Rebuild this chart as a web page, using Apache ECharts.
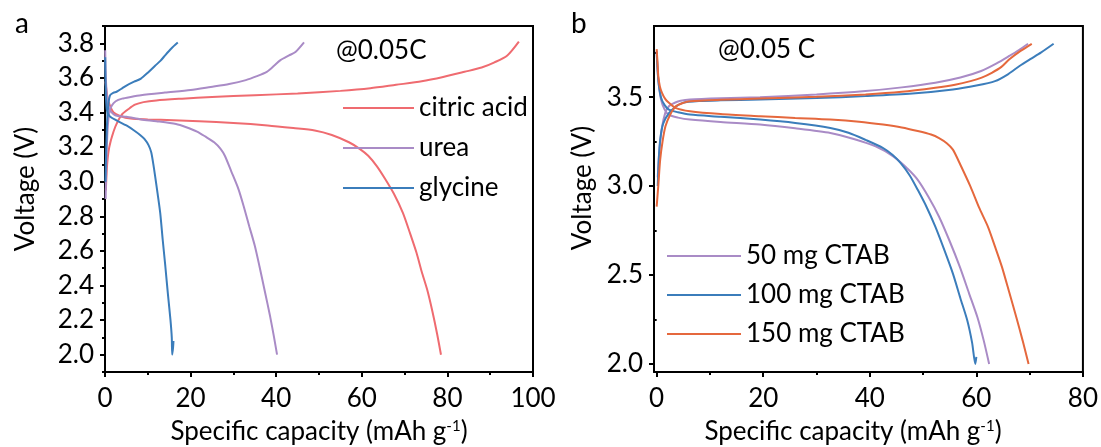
<!DOCTYPE html>
<html>
<head>
<meta charset="utf-8">
<title>Charge-discharge curves</title>
<script src="https://cdn.jsdelivr.net/npm/echarts@6/dist/echarts.min.js"></script>
<style>
  html, body { margin: 0; padding: 0; background: #fff; }
  #main { width: 1101px; height: 447px; }
</style>
</head>
<body>
<div id="main"></div>
<script>
// ---- panel a : different fuels (capacity mAh/g, voltage V) ----
var citricCharge = [[0.2,2.95],[0.5,3.1],[1,3.2],[2,3.29],[3,3.35],[4,3.39],[5.5,3.42],[7,3.445],[9,3.46],[12,3.47],[18,3.48],[25,3.49],[35,3.5],[45,3.51],[55,3.525],[62,3.54],[68,3.56],[74,3.58],[79,3.605],[84,3.635],[88,3.66],[91,3.69],[94,3.73],[96.7,3.81]];
var citricDischarge = [[0.1,3.58],[0.5,3.5],[1,3.45],[2,3.4],[3.5,3.38],[6,3.365],[10,3.36],[16,3.355],[22,3.35],[30,3.34],[38,3.325],[44,3.31],[49,3.296],[53,3.27],[57,3.228],[59.5,3.19],[61.5,3.15],[63.5,3.09],[65.5,3.014],[67.5,2.93],[69.6,2.82],[71.3,2.7],[72.8,2.588],[74,2.48],[75.3,2.374],[76.5,2.25],[77.6,2.12],[78.5,2.0]];
var ureaCharge = [[0.15,2.9],[0.3,3.1],[0.6,3.3],[1,3.4],[1.6,3.44],[2.5,3.465],[4,3.48],[6,3.49],[8.4,3.5],[14,3.515],[20,3.53],[24.7,3.548],[29,3.565],[32.9,3.587],[35.5,3.61],[37.8,3.635],[39.5,3.67],[41,3.703],[43,3.73],[44.5,3.75],[46.5,3.806]];
var ureaDischarge = [[0.05,3.76],[0.2,3.6],[0.5,3.48],[1,3.42],[2,3.39],[3,3.38],[5,3.375],[8.4,3.36],[12,3.35],[16.6,3.334],[19,3.315],[21.5,3.29],[23.5,3.26],[25.5,3.228],[27,3.19],[28,3.15],[29.5,3.06],[31.2,2.956],[32.5,2.85],[33.7,2.743],[35,2.63],[36.1,2.51],[37.4,2.36],[38.6,2.219],[39.5,2.1],[40.2,2.0]];
var glycineCharge = [[0.1,3.0],[0.3,3.2],[0.5,3.35],[0.8,3.45],[1.2,3.5],[2,3.515],[2.7,3.52],[4,3.54],[5.1,3.557],[6.8,3.578],[8.4,3.596],[10,3.63],[11.7,3.67],[13,3.7],[14.1,3.732],[15.5,3.77],[17,3.804]];
var glycineDischarge = [[0.05,3.72],[0.15,3.55],[0.4,3.42],[1,3.38],[2.7,3.354],[5,3.325],[6.8,3.296],[8.2,3.27],[9.2,3.247],[10.2,3.21],[10.8,3.17],[11.3,3.1],[11.7,3.034],[12.3,2.93],[12.9,2.82],[13.5,2.66],[14.1,2.51],[14.7,2.35],[15.3,2.2],[15.6,2.1],[15.7,2.0],[15.9,2.04],[16.0,2.08]];

// ---- panel b : CTAB amount ----
var ctab50Charge = [[0.2,3.05],[0.5,3.2],[1,3.33],[1.6,3.41],[2.3,3.449],[3.5,3.47],[4.5,3.48],[6.25,3.487],[12,3.494],[19.4,3.5],[30,3.515],[39.2,3.534],[46,3.555],[52.3,3.581],[57,3.61],[60.9,3.647],[63.8,3.69],[66.2,3.732],[68,3.765],[69.7,3.8]];
var ctab50Discharge = [[0,3.76],[0.3,3.6],[0.8,3.49],[1.5,3.43],[2.3,3.4],[4,3.385],[6.25,3.374],[12,3.36],[19.4,3.346],[26,3.325],[32.6,3.299],[37,3.265],[41.1,3.223],[44.4,3.167],[47,3.1],[49,3.035],[51,2.94],[53,2.828],[55,2.69],[56.9,2.546],[58.6,2.4],[60.2,2.263],[61.4,2.13],[62.4,2.0]];
var ctab100Charge = [[0.2,3.0],[0.4,3.15],[0.66,3.26],[1.2,3.35],[2.3,3.41],[3.5,3.445],[4.9,3.468],[8,3.478],[12,3.482],[19.4,3.487],[30,3.495],[39.2,3.506],[48,3.52],[55.6,3.543],[60,3.565],[63.5,3.59],[66,3.63],[68.1,3.675],[70.2,3.715],[72.1,3.75],[74.5,3.8]];
var ctab100Discharge = [[0,3.75],[0.3,3.6],[0.8,3.5],[1.5,3.455],[2.3,3.43],[4,3.415],[6.25,3.402],[12,3.39],[19.4,3.374],[26,3.355],[32.6,3.327],[36,3.3],[39.2,3.26],[42.5,3.214],[44.3,3.175],[45.8,3.129],[47.5,3.06],[49,2.979],[50.7,2.88],[52.3,2.772],[54,2.64],[55.6,2.508],[57,2.37],[58.3,2.245],[59.2,2.12],[59.8,2.0],[60,2.04]];
var ctab150Charge = [[0,2.885],[0.3,3.0],[0.66,3.148],[1.1,3.25],[1.65,3.336],[2.5,3.4],[3.6,3.449],[5,3.468],[6.25,3.477],[12,3.485],[19.4,3.492],[30,3.502],[39.2,3.515],[46,3.53],[52.3,3.553],[56,3.57],[58.9,3.59],[61,3.61],[62.9,3.637],[64.7,3.67],[66.2,3.713],[68.3,3.76],[70.4,3.8]];
var ctab150Discharge = [[0,3.77],[0.15,3.7],[0.3,3.62],[0.6,3.56],[1,3.524],[1.6,3.49],[2.3,3.468],[3.5,3.44],[6.25,3.421],[12,3.405],[19.4,3.393],[26,3.383],[32.6,3.374],[38,3.362],[42.5,3.346],[46,3.33],[49,3.31],[51.5,3.29],[53,3.27],[54.5,3.24],[55.6,3.205],[57,3.12],[58.9,2.997],[60.5,2.88],[62.2,2.77],[63.5,2.66],[64.8,2.546],[66.2,2.4],[67.5,2.263],[68.7,2.13],[69.8,2.0]];

// tick values
var aXLabels = [0, 20, 40, 60, 80, 100];
var aXMinor = [10, 30, 50, 70, 90];
var aYLabels = [2.0, 2.2, 2.4, 2.6, 2.8, 3.0, 3.2, 3.4, 3.6, 3.8];
var aYMinor = [1.9, 2.1, 2.3, 2.5, 2.7, 2.9, 3.1, 3.3, 3.5, 3.7, 3.9];
var bXLabels = [0, 20, 40, 60, 80];
var bXMinor = [10, 30, 50, 70];
var bYLabels = [2.0, 2.5, 3.0, 3.5];
var bYMinor = [2.25, 2.75, 3.25, 3.75];

var FONT = 'Lato';
var RED = '#ef6b70', PURPLE = '#a98bc6', BLUE = '#3b7dbb', ORANGE = '#e5683d';

// plot boxes (pixels)
var boxA = { left: 105, top: 26, width: 428, height: 346 };
var boxB = { left: 654, top: 26, width: 429, height: 346 };

var myChart = echarts.init(document.getElementById('main'));

function mainAxis(grid, min, max, labels, fmt, margin) {
  return {
    type: 'value', gridIndex: grid, min: min, max: max,
    axisLine: { show: true, onZero: false, lineStyle: { color: '#000', width: 2 } },
    axisTick: { show: true, inside: false, length: 5, customValues: labels, lineStyle: { color: '#000', width: 2 } },
    axisLabel: { show: true, customValues: labels, margin: margin, color: '#000', fontSize: 26, fontFamily: FONT, formatter: fmt },
    splitLine: { show: false }
  };
}
// extra axis on the same grid: only short minor ticks
function minorAxis(grid, min, max, values, pos) {
  return {
    type: 'value', gridIndex: grid, min: min, max: max, position: pos,
    axisLine: { show: false },
    axisTick: { show: true, inside: false, length: 3, customValues: values, lineStyle: { color: '#000', width: 2 } },
    axisLabel: { show: false },
    splitLine: { show: false }
  };
}
function curve(name, data, xi, yi, color) {
  return {
    name: name, type: 'line', data: data, xAxisIndex: xi, yAxisIndex: yi,
    symbol: 'none', smooth: 0.25, lineStyle: { color: color, width: 2 },
    itemStyle: { color: color }, animation: false
  };
}
// top + right edge of the plot frame, drawn from the grid's own rectangle
function frameSeries(gi) {
  return {
    type: 'custom', xAxisIndex: gi, yAxisIndex: gi, silent: true, clip: false, z: 10,
    data: [[0, 0]],
    renderItem: function (params) {
      var cs = params.coordSys;
      var x0 = cs.x, y0 = cs.y, x1 = cs.x + cs.width, y1 = cs.y + cs.height;
      return {
        type: 'polyline',
        shape: { points: [[x0 - 1, y0], [x1, y0], [x1, y1 + 1]] },
        style: { stroke: '#000', lineWidth: 2, fill: null }
      };
    }
  };
}
function fmt1(v) { return v.toFixed(1); }
function fmt0(v) { return String(v); }

var titleStyle = { fill: '#000', fontSize: 26, fontFamily: FONT };
var xTitle = 'Specific capacity (mAh g{sup|-1})';
var supStyle = { sup: { fontSize: 15, fontFamily: FONT, verticalAlign: 'top', lineHeight: 15 } };

var option = {
  animation: false,
  grid: [boxA, boxB],
  xAxis: [
    mainAxis(0, 0, 100, aXLabels, fmt0, 14),
    mainAxis(1, -0.5, 80, bXLabels, fmt0, 14),
    minorAxis(0, 0, 100, aXMinor, 'bottom'),
    minorAxis(1, -0.5, 80, bXMinor, 'bottom')
  ],
  yAxis: [
    mainAxis(0, 1.9, 3.9, aYLabels, fmt1, 11),
    mainAxis(1, 1.955, 3.9, bYLabels, fmt1, 11),
    minorAxis(0, 1.9, 3.9, aYMinor, 'left'),
    minorAxis(1, 1.955, 3.9, bYMinor, 'left')
  ],
  legend: [
    {
      orient: 'vertical', left: 338, top: 88, itemWidth: 71, itemHeight: 2, itemGap: 10,
      icon: 'rect', data: ['citric acid', 'urea', 'glycine'],
      textStyle: { color: '#000', fontSize: 26, fontFamily: FONT, lineHeight: 30 }
    },
    {
      orient: 'vertical', left: 662, top: 236, itemWidth: 74, itemHeight: 2, itemGap: 9,
      icon: 'rect', data: ['50 mg CTAB', '100 mg CTAB', '150 mg CTAB'],
      textStyle: { color: '#000', fontSize: 26, fontFamily: FONT, lineHeight: 30 }
    }
  ],
  graphic: [
    { type: 'text', x: 15, y: 24, style: Object.assign({ text: 'a', verticalAlign: 'middle' }, titleStyle, { fontSize: 28 }) },
    { type: 'text', x: 571, y: 24, style: Object.assign({ text: 'b', verticalAlign: 'middle' }, titleStyle, { fontSize: 28 }) },
    { type: 'text', x: 336, y: 51, style: Object.assign({ text: '@0.05C', verticalAlign: 'middle' }, titleStyle) },
    { type: 'text', x: 718, y: 50, style: Object.assign({ text: '@0.05 C', verticalAlign: 'middle' }, titleStyle) },
    { type: 'text', x: 26, y: 189, rotation: Math.PI / 2,
      style: Object.assign({ text: 'Voltage (V)', align: 'center', verticalAlign: 'middle' }, titleStyle) },
    { type: 'text', x: 583, y: 188, rotation: Math.PI / 2,
      style: Object.assign({ text: 'Voltage (V)', align: 'center', verticalAlign: 'middle' }, titleStyle) },
    { type: 'text', x: 319, y: 432,
      style: Object.assign({ text: xTitle, align: 'center', verticalAlign: 'middle', rich: supStyle }, titleStyle) },
    { type: 'text', x: 853, y: 432,
      style: Object.assign({ text: xTitle, align: 'center', verticalAlign: 'middle', rich: supStyle }, titleStyle) }
  ],
  series: [
    frameSeries(0),
    frameSeries(1),
    curve('citric acid', citricCharge, 0, 0, RED),
    curve('citric acid', citricDischarge, 0, 0, RED),
    curve('urea', ureaCharge, 0, 0, PURPLE),
    curve('urea', ureaDischarge, 0, 0, PURPLE),
    curve('glycine', glycineCharge, 0, 0, BLUE),
    curve('glycine', glycineDischarge, 0, 0, BLUE),
    curve('50 mg CTAB', ctab50Charge, 1, 1, PURPLE),
    curve('50 mg CTAB', ctab50Discharge, 1, 1, PURPLE),
    curve('100 mg CTAB', ctab100Charge, 1, 1, BLUE),
    curve('100 mg CTAB', ctab100Discharge, 1, 1, BLUE),
    curve('150 mg CTAB', ctab150Charge, 1, 1, ORANGE),
    curve('150 mg CTAB', ctab150Discharge, 1, 1, ORANGE)
  ]
};

myChart.setOption(option);
</script>
</body>
</html>
